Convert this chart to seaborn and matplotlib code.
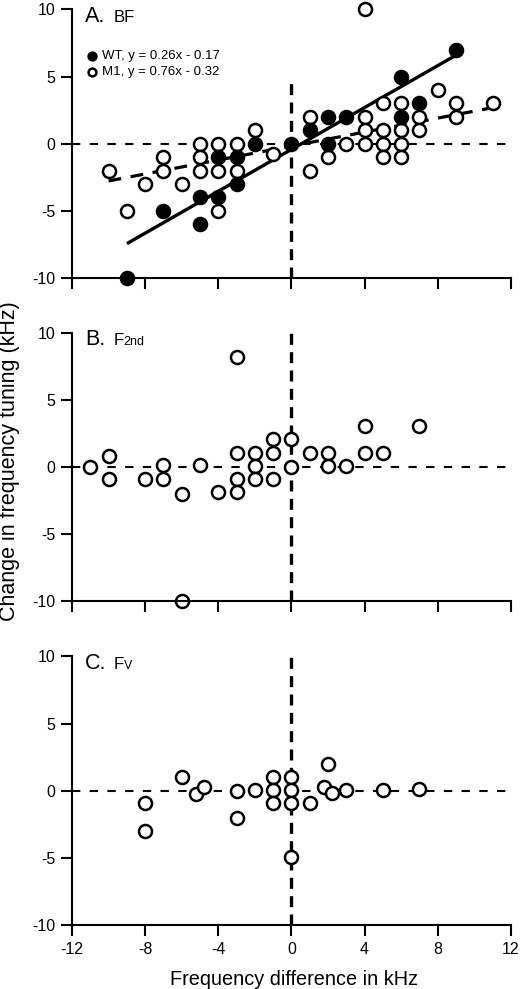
import matplotlib
matplotlib.use("Agg")
import matplotlib.pyplot as plt
import numpy as np
import seaborn as sns

# A. BF  -- filled circles (WT) and open circles (M1)
wt_x = [-9, -7, -5, -5, -4, -4, -3, -3, -2, 0, 1, 2, 2, 3, 6, 6, 7, 9]
wt_y = [-10, -5, -4, -6, -4, -1, -1, -3, 0, 0, 1, 2, 0, 2, 5, 2, 3, 7]
m1_x = [-10, -9, -8, -7, -7, -6, -5, -5, -5, -4, -4, -4, -3, -3, -2, -1,
        1, 1, 2, 3, 4, 4, 4, 4, 5, 5, 5, 5, 6, 6, 6, 6, 7, 7, 8, 9, 9, 11]
m1_y = [-2, -5, -3, -1, -2, -3, 0, -1, -2, 0, -2, -5, 0, -2, 1, -0.8,
        2, -2, -1, 0, 10, 2, 1, 0, 3, 1, 0, -1, 3, 1, 0, -1, 2, 1, 4, 3, 2, 3]
wt_label = "WT, y = 0.26x - 0.17"
m1_label = "M1, y = 0.76x - 0.32"
# fit lines as they are drawn (slope, intercept)
solid_fit = (0.78, -0.42)
dashed_fit = (0.26, -0.17)

# B. F2nd
f2nd_x = [-11, -10, -10, -8, -7, -7, -6, -6, -5, -4, -3, -3, -3, -3, -2, -2, -2,
          -1, -1, -1, 0, 0, 1, 2, 2, 3, 4, 4, 5, 7]
f2nd_y = [0, 0.8, -0.9, -0.9, 0.1, -0.9, -2, -10, 0.1, -1.9, 8.2, 1.05, -0.9, -1.9,
          1.05, 0.05, -0.9, 2.1, 1.05, -0.9, 2.05, 0, 1.05, 1.05, 0.05, 0.05, 3, 1.05, 1.05, 3]

# C. Fv
fv_x = [-8, -8, -6, -5.2, -4.8, -3, -3, -2, -1, -1, -1, 0, 0, 0, 0, 1, 1.8, 2, 2.2, 3, 5, 7]
fv_y = [-0.9, -3, 1.05, -0.25, 0.3, 0, -2, 0.05, 1.05, 0.05, -0.9, 1.05, 0.05, -0.9, -4.95,
        -0.9, 0.3, 2, -0.2, 0.05, 0.05, 0.1]

x_ticks = [-12, -8, -4, 0, 4, 8, 12]
y_ticks = [-10, -5, 0, 5, 10]
panel_letters = ["A.", "B.", "C."]
panel_names = [("BF", ""), ("F", "2nd"), ("F", "V")]

sns.set_theme(style="ticks")
plt.rcParams["font.family"] = ["Liberation Sans", "DejaVu Sans"]
plt.rcParams["axes.unicode_minus"] = False
plt.rcParams["text.color"] = "black"

fig = plt.figure(figsize=(5.2, 9.89), dpi=100)
bottoms = [0.7189, 0.3923, 0.0647]
axes = [fig.add_axes([0.1385, b, 0.844, 0.2715]) for b in bottoms]

open_kw = dict(color="white", edgecolor="black", s=88, linewidth=1.8, clip_on=False)

for i, ax in enumerate(axes):
    ax.set_xlim(-12, 12)
    ax.set_ylim(-10, 10)
    ax.axhline(0, color="black", lw=1.5, dashes=(4, 4.5), zorder=0)
    if i == 0:
        ax.axvline(0, ymin=0, ymax=0.75, color="black", lw=2.4, dashes=(3.3, 2.2), zorder=0)
    else:
        ax.axvline(0, ymin=0, ymax=1.02, color="black", lw=2.4, dashes=(3.3, 2.2),
                   zorder=0, clip_on=False)
    ax.set_xticks(x_ticks)
    ax.set_yticks(y_ticks)
    ax.tick_params(direction="out", length=8, width=1.5, labelsize=11.5, pad=4,
                   colors="black")
    if i < 2:
        ax.set_xticklabels([])
    for side in ["left", "bottom"]:
        ax.spines[side].set_linewidth(1.5)
        ax.spines[side].set_color("black")
    sns.despine(ax=ax)
    ax.set_facecolor("white")

    ax.text(0.030, 0.955, panel_letters[i], transform=ax.transAxes, fontsize=15.5,
            va="baseline", ha="left", color="black")
    big, small = panel_names[i]
    ax.text(0.094, 0.955, big, transform=ax.transAxes, fontsize=12,
            va="baseline", ha="left", color="black")
    if small:
        ax.text(0.118, 0.955, small, transform=ax.transAxes, fontsize=9,
                va="baseline", ha="left", color="black")

# panel A
ax = axes[0]
xs = np.array([min(wt_x), max(wt_x)])
ax.plot(xs, solid_fit[0] * xs + solid_fit[1], color="black", lw=2.4, zorder=1,
        solid_capstyle="butt")
xd = np.array([min(m1_x), max(m1_x)])
ax.plot(xd, dashed_fit[0] * xd + dashed_fit[1], color="black", lw=2.3,
        dashes=(4, 3), zorder=1)
sns.scatterplot(x=m1_x, y=m1_y, ax=ax, zorder=2, label=m1_label, **open_kw)
sns.scatterplot(x=wt_x, y=wt_y, ax=ax, color="black", edgecolor="black", s=88,
                linewidth=1.8, clip_on=False, zorder=3, label=wt_label)
h, l = ax.get_legend_handles_labels()
order = [l.index(wt_label), l.index(m1_label)]
ax.legend([h[k] for k in order], [l[k] for k in order], loc="upper left",
          bbox_to_anchor=(0.034, 0.85), frameon=False, fontsize=9.5,
          markerscale=0.6, handlelength=0.8, handletextpad=0.35,
          borderpad=0, borderaxespad=0, labelspacing=0.3, labelcolor="black")

# panel B
sns.scatterplot(x=f2nd_x, y=f2nd_y, ax=axes[1], zorder=2, **open_kw)
# panel C
sns.scatterplot(x=fv_x, y=fv_y, ax=axes[2], zorder=2, **open_kw)

fig.text(0.5645, 0.004, "Frequency difference in kHz", fontsize=14.3,
         ha="center", va="baseline", color="black")
fig.text(0.019, 0.5334, "Change in frequency tuning (kHz)", fontsize=15.5,
         rotation=90, ha="center", va="center", color="black")

fig.savefig("out.png", dpi=100, facecolor="white")
